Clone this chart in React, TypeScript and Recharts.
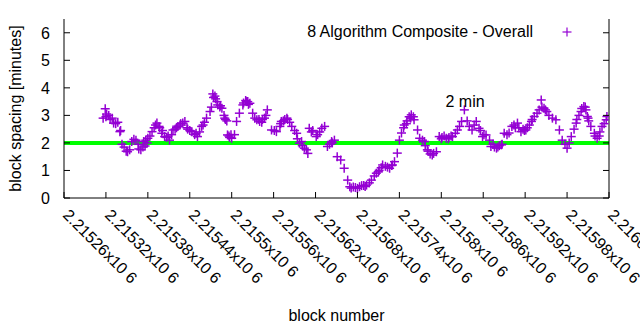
import { ScatterChart, Scatter, XAxis, YAxis, ReferenceLine, ReferenceDot, Legend } from 'recharts'

const SERIES_NAME = '8 Algorithm Composite - Overall'
const PURPLE = '#9400d3'
const GREEN = '#00ff00'
const FONT = '"Liberation Sans", Arial, sans-serif'

// block number / spacing in minutes
const BLOCKS = [
  2215316, 2215319, 2215320, 2215321, 2215324, 2215326, 2215329, 2215331, 2215334, 2215337,
  2215340, 2215341, 2215343, 2215346, 2215349, 2215351, 2215354, 2215357, 2215360, 2215363,
  2215366, 2215367, 2215370, 2215373, 2215376, 2215379, 2215380, 2215383, 2215386, 2215389,
  2215393, 2215396, 2215397, 2215400, 2215404, 2215407, 2215411, 2215414, 2215416, 2215419,
  2215423, 2215426, 2215430, 2215433, 2215436, 2215440, 2215443, 2215447, 2215451, 2215454,
  2215457, 2215461, 2215464, 2215469, 2215471, 2215473, 2215476, 2215479, 2215480, 2215483,
  2215486, 2215489, 2215490, 2215491, 2215494, 2215497, 2215500, 2215504, 2215507, 2215511,
  2215516, 2215520, 2215523, 2215526, 2215530, 2215533, 2215536, 2215540, 2215544, 2215547,
  2215551, 2215557, 2215561, 2215564, 2215569, 2215571, 2215576, 2215579, 2215583, 2215586,
  2215590, 2215593, 2215597, 2215601, 2215604, 2215607, 2215609, 2215611, 2215614, 2215621,
  2215626, 2215629, 2215633, 2215637, 2215643, 2215647, 2215651, 2215656, 2215661, 2215666,
  2215669, 2215671, 2215677, 2215683, 2215689, 2215693, 2215697, 2215700, 2215704, 2215707,
  2215711, 2215716, 2215720, 2215726, 2215730, 2215733, 2215737, 2215740, 2215743, 2215747,
  2215751, 2215754, 2215757, 2215761, 2215766, 2215769, 2215773, 2215776, 2215780, 2215784,
  2215787, 2215793, 2215797, 2215801, 2215807, 2215811, 2215816, 2215820, 2215823, 2215826,
  2215829, 2215833, 2215837, 2215840, 2215844, 2215847, 2215850, 2215854, 2215859, 2215864,
  2215869, 2215871, 2215876, 2215879, 2215883, 2215886, 2215890, 2215894, 2215897, 2215901,
  2215904, 2215909, 2215911, 2215914, 2215919, 2215921, 2215926, 2215929, 2215933, 2215937,
  2215940, 2215943, 2215947, 2215951, 2215954, 2215959, 2215964, 2215969, 2215973, 2215977,
  2215980, 2215983, 2215986, 2215990, 2215993, 2215997, 2216000, 2216004, 2216007, 2216009,
  2216011, 2216014, 2216019, 2216023, 2216026, 2216030, 2216033, 2216036, 2216037,
]
const SPACING = [
  2.90, 3.24, 2.95, 3.05, 3.00, 2.85, 2.90, 2.72, 2.70, 2.75,
  2.41, 2.45, 1.95, 1.85, 1.70, 1.68, 1.75, 2.05, 2.13, 2.10,
  1.95, 1.78, 1.75, 1.85, 1.89, 2.00, 2.17, 2.25, 2.41, 2.55,
  2.72, 2.60, 2.55, 2.35, 2.23, 2.20, 2.10, 2.30, 2.47, 2.50,
  2.60, 2.65, 2.72, 2.78, 2.55, 2.45, 2.41, 2.30, 2.23, 2.40,
  2.60, 2.75, 2.90, 3.14, 3.30, 3.78, 3.70, 3.50, 3.38, 3.30,
  3.26, 3.00, 2.90, 2.85, 2.29, 2.20, 2.17, 2.30, 2.78, 3.08,
  3.38, 3.54, 3.50, 3.44, 3.08, 2.90, 2.84, 2.78, 2.85, 2.90,
  3.20, 2.47, 2.45, 2.41, 2.60, 2.78, 2.85, 2.90, 2.75, 2.60,
  2.45, 2.35, 1.99, 1.90, 1.81, 1.75, 1.62, 2.53, 2.40, 2.23,
  2.40, 2.53, 2.60, 1.87, 2.05, 2.10, 1.50, 1.38, 1.08, 0.65,
  0.41, 0.36, 0.38, 0.41, 0.45, 0.47, 0.55, 0.65, 0.80, 0.90,
  1.00, 1.20, 1.15, 1.08, 1.20, 1.32, 1.63, 2.10, 2.36, 2.65,
  2.80, 2.95, 3.02, 2.84, 2.47, 2.17, 2.10, 2.05, 1.75, 1.60,
  1.56, 1.68, 2.23, 2.20, 2.17, 2.20, 2.23, 2.35, 2.47, 2.60,
  2.78, 3.20, 2.80, 2.60, 2.47, 2.65, 2.78, 2.53, 2.23, 2.29,
  2.10, 1.87, 1.85, 1.81, 1.90, 1.93, 2.35, 2.30, 2.36, 2.60,
  2.65, 2.72, 2.55, 2.41, 2.45, 2.47, 2.65, 2.78, 2.96, 3.08,
  3.20, 3.56, 3.26, 3.14, 3.00, 2.90, 2.84, 2.47, 2.10, 1.95,
  1.81, 2.00, 2.23, 2.50, 2.72, 3.00, 3.14, 3.32, 3.20, 2.96,
  2.80, 2.60, 2.35, 2.17, 2.25, 2.60, 2.70, 2.84, 2.96,
]
// more readings where the markers pile up
const BLOCKS_B = [
  2215374, 2215377, 2215391, 2215401, 2215409, 2215421, 2215427, 2215437, 2215449, 2215459,
  2215474, 2215477, 2215484, 2215493, 2215496, 2215499, 2215517, 2215521, 2215524, 2215539,
  2215543, 2215549, 2215570, 2215574, 2215580, 2215594, 2215600, 2215616, 2215623, 2215640,
  2215644, 2215674, 2215680, 2215686, 2215691, 2215710, 2215714, 2215723, 2215729, 2215746,
  2215750, 2215756, 2215760, 2215777, 2215781, 2215789, 2215800, 2215804, 2215810, 2215814,
  2215856, 2215861, 2215874, 2215881, 2215887, 2215906, 2215917, 2215923, 2215930, 2215944,
  2215949, 2215994, 2216001, 2216006, 2216010, 2216020, 2216027,
]
const SPACING_B = [
  2.05, 2.10, 2.65, 2.45, 2.25, 2.55, 2.70, 2.50, 2.35, 2.65,
  3.65, 3.60, 3.35, 2.80, 2.25, 2.30, 3.45, 3.50, 3.40, 2.85,
  2.75, 3.00, 2.70, 2.80, 2.85, 2.15, 2.05, 2.45, 2.30, 1.95,
  2.00, 0.40, 0.35, 0.45, 0.42, 0.95, 1.10, 1.12, 1.18, 2.55,
  2.70, 2.90, 2.95, 1.90, 1.70, 1.62, 2.15, 2.25, 2.15, 2.25,
  2.45, 2.30, 1.95, 1.85, 1.95, 2.55, 2.50, 2.55, 2.85, 3.30,
  3.20, 2.85, 3.25, 3.30, 2.90, 2.25, 2.40,
]
const X_TICKS = [
  2215260, 2215320, 2215380, 2215440, 2215500, 2215560, 2215620,
  2215680, 2215740, 2215800, 2215860, 2215920, 2215980, 2216040,
]
const Y_TICKS = [0, 1, 2, 3, 4, 5, 6]
const TARGET = 2
const NOTE = '2 min'
const NOTE_AT = { block: 2215806, spacing: 3.3 }

const rows = [
  ...BLOCKS.map((b, i) => ({ block: b, spacing: SPACING[i] })),
  ...BLOCKS_B.map((b, i) => ({ block: b, spacing: SPACING_B[i] })),
]

const fmtBlock = (v: number) => `${parseFloat((v / 1e6).toFixed(5))}x10 6`

const Plus = ({ cx, cy }: any) => (
  <g stroke={PURPLE} strokeWidth={1.5}>
    <line x1={cx - 4.5} y1={cy} x2={cx + 4.5} y2={cy} />
    <line x1={cx} y1={cy - 4.5} x2={cx} y2={cy + 4.5} />
  </g>
)

// gnuplot style: ticks point inward on every side
const BottomTick = ({ x, y, payload }: any) => (
  <g>
    <line x1={x} y1={y} x2={x} y2={y - 6} stroke="#000" />
    <text x={x - 2} y={y + 18} transform={`rotate(45 ${x - 2} ${y + 18})`}
      fontSize={16} fontFamily={FONT} fill="#000">{fmtBlock(payload.value)}</text>
  </g>
)
const TopTick = ({ x, y }: any) => <line x1={x} y1={y} x2={x} y2={y + 6} stroke="#000" />
const LeftTick = ({ x, y, payload }: any) => (
  <g>
    <line x1={x} y1={y} x2={x + 6} y2={y} stroke="#000" />
    <text x={x - 14} y={y} dy="0.36em" textAnchor="end" fontSize={16} fontFamily={FONT} fill="#000">
      {payload.value}
    </text>
  </g>
)
const RightTick = ({ x, y }: any) => <line x1={x} y1={y} x2={x - 6} y2={y} stroke="#000" />

const YTitle = ({ viewBox }: any) => {
  const cx = 21, cy = viewBox.y + viewBox.height / 2
  return (
    <text x={cx} y={cy} transform={`rotate(-90 ${cx} ${cy})`} textAnchor="middle"
      fontSize={16} fontFamily={FONT} fill="#000">block spacing [minutes]</text>
  )
}
const XTitle = ({ viewBox }: any) => (
  <text x={viewBox.x + viewBox.width / 2} y={viewBox.y + viewBox.height - 9} textAnchor="middle"
    fontSize={16} fontFamily={FONT} fill="#000">block number</text>
)

const LegendBox = ({ payload }: any) => (
  <div style={{ position: 'relative', height: 0 }}>
    {(payload || []).map((p: any) => (
      <div key={p.value} style={{ position: 'absolute', right: 107, top: 22, fontSize: 16, fontFamily: FONT, whiteSpace: 'nowrap', lineHeight: '20px' }}>
        {p.value}
        <svg width={12} height={12} style={{ position: 'absolute', left: '100%', marginLeft: 28, top: 4 }}>
          <line x1={1.5} y1={6} x2={10.5} y2={6} stroke={PURPLE} strokeWidth={1.2} />
          <line x1={6} y1={1.5} x2={6} y2={10.5} stroke={PURPLE} strokeWidth={1.2} />
        </svg>
      </div>
    ))}
  </div>
)

export default function App() {
  return (
    <div style={{ width: 640, height: 330, background: '#fff' }}>
      <style>{'body{margin:0}'}</style>
      <ScatterChart width={640} height={330} margin={{ top: 19, right: 0, bottom: 0, left: 0 }}>
        <XAxis dataKey="block" type="number" domain={[2215260, 2216040]} ticks={X_TICKS} interval={0}
          height={132} tickSize={0} tickMargin={0} tick={<BottomTick />} axisLine={{ stroke: '#000' }}
          tickLine={false} label={<XTitle />} allowDataOverflow />
        <XAxis xAxisId="top" orientation="top" type="number" domain={[2215260, 2216040]} ticks={X_TICKS}
          interval={0} height={0} tickSize={0} tickMargin={0} tick={<TopTick />} axisLine={{ stroke: '#000' }}
          tickLine={false} allowDataOverflow />
        <YAxis dataKey="spacing" type="number" domain={[0, 6.5]} ticks={Y_TICKS} interval={0} width={64}
          tickSize={0} tickMargin={0} tick={<LeftTick />} axisLine={{ stroke: '#000' }} tickLine={false}
          label={<YTitle />} allowDataOverflow />
        <YAxis yAxisId="right" orientation="right" type="number" domain={[0, 6.5]} ticks={Y_TICKS} interval={0}
          width={31} tickSize={0} tickMargin={0} tick={<RightTick />} axisLine={{ stroke: '#000' }}
          tickLine={false} allowDataOverflow />
        <Legend verticalAlign="top" align="left" wrapperStyle={{ top: 0, left: 0, width: 640, height: 0 }}
          content={<LegendBox />} />
        <Scatter name={SERIES_NAME} data={rows} fill={PURPLE} shape={<Plus />} isAnimationActive={false} />
        <ReferenceLine y={TARGET} stroke={GREEN} strokeWidth={4} />
        <ReferenceDot x={NOTE_AT.block} y={NOTE_AT.spacing} r={0}
          shape={(p: any) => (
            <text x={p.cx} y={p.cy} fontSize={16} fontFamily={FONT} fill="#000">{NOTE}</text>
          )} />
      </ScatterChart>
    </div>
  )
}
